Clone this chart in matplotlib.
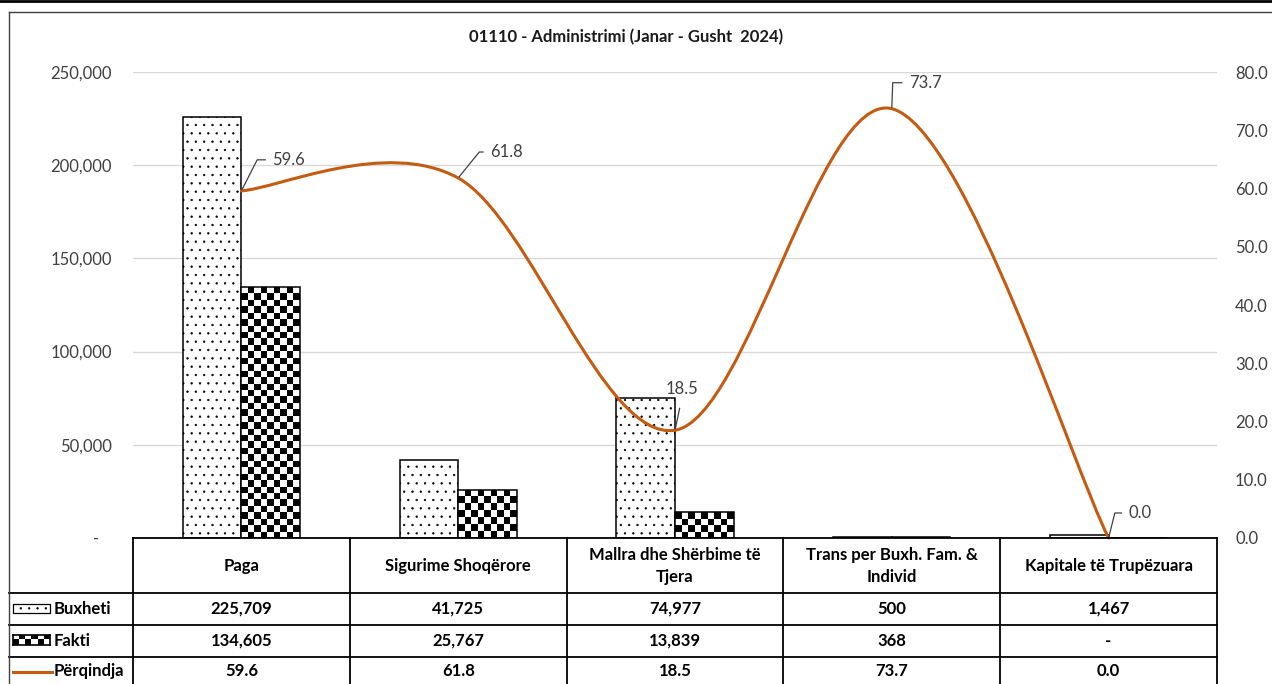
import numpy as np
import matplotlib
matplotlib.use('Agg')
import matplotlib.pyplot as plt
from matplotlib.path import Path
from matplotlib.patches import PathPatch, Rectangle
from matplotlib.lines import Line2D
from matplotlib.colors import ListedColormap
from matplotlib.ticker import FuncFormatter, MultipleLocator

plt.rcParams['font.family'] = ['Lato', 'DejaVu Sans']
plt.rcParams['hatch.linewidth'] = 0.45

title = '01110 - Administrimi (Janar - Gusht  2024)'
categories = ['Paga', 'Sigurime Shoqërore', 'Mallra dhe Shërbime të\nTjera',
              'Trans per Buxh. Fam. &\nIndivid', 'Kapitale të Trupëzuara']
buxheti = [225709, 41725, 74977, 500, 1467]
fakti = [134605, 25767, 13839, 368, 0]
perqindja = [59.6, 61.8, 18.5, 73.7, 0.0]
series = ['Buxheti', 'Fakti', 'Përqindja']

W, H = 1272, 684
orange = '#C55A11'
txt = '#404040'
checker_cmap = ListedColormap(['white', 'black'])

fig = plt.figure(figsize=(W / 100, H / 100), dpi=100)


def fx(px):
    return px / W


def fy(py):
    return 1 - py / H


# plot area in pixels: left 133, right 1217, top 72, bottom 538
ax = fig.add_axes([fx(133), fy(538), fx(1217) - fx(133), fy(72) - fy(538)])
ax.set_xlim(-0.5, 4.5)
ax.set_ylim(0, 250000)
ax.yaxis.set_major_locator(MultipleLocator(50000))
ax.yaxis.set_major_formatter(FuncFormatter(lambda v, p: '-   ' if v == 0 else f'{v:,.0f}'))
ax.set_xticks([])
ax.tick_params(axis='y', length=0, pad=15, labelsize=12, labelcolor=txt)
ax.yaxis.grid(True, color='#d9d9d9', lw=1)
ax.set_axisbelow(True)
for s in ax.spines.values():
    s.set_visible(False)

x = np.arange(len(categories))
w = 0.27
ax.bar(x - w / 2, buxheti, w, facecolor='white', edgecolor='black', lw=1.1,
       hatch='..', zorder=2)
fbars = ax.bar(x + w / 2, fakti, w, facecolor='none', edgecolor='black', lw=1.1,
               zorder=3)


def checker(axis, rect, cell=6.5):
    x0, y0 = rect.get_x(), rect.get_y()
    x1, y1 = x0 + rect.get_width(), y0 + rect.get_height()
    if y1 <= y0:
        return
    (px0, py0), (px1, py1) = axis.transData.transform([(x0, y0), (x1, y1)])
    nx = max(1, int(round((px1 - px0) / cell)))
    ny = max(1, int(round((py1 - py0) / cell)))
    grid = np.indices((ny, nx)).sum(axis=0) % 2
    im = axis.imshow(grid, cmap=checker_cmap, extent=(x0, x1, y0, y1),
                     origin='lower', interpolation='nearest', aspect='auto',
                     zorder=2.5)
    im.set_clip_path(rect)


for r in fbars:
    checker(ax, r)
ax.set_xlim(-0.5, 4.5)
ax.set_ylim(0, 250000)

# right axis with the smoothed percentage line
ax2 = ax.twinx()
ax2.set_ylim(0, 80)
ax2.yaxis.set_major_locator(MultipleLocator(10))
ax2.yaxis.set_major_formatter(FuncFormatter(lambda v, p: f'{v:.1f}'))
ax2.tick_params(axis='y', length=0, pad=13, labelsize=12, labelcolor=txt)
for s in ax2.spines.values():
    s.set_visible(False)

pts = np.column_stack([x, perqindja]).astype(float)
ext = np.vstack([pts[0], pts, pts[-1]])
verts = [pts[0]]
codes = [Path.MOVETO]
for i in range(len(pts) - 1):
    p0, p1, p2, p3 = ext[i], ext[i + 1], ext[i + 2], ext[i + 3]
    verts += [p1 + (p2 - p0) / 6, p2 - (p3 - p1) / 6, p2]
    codes += [Path.CURVE4] * 3
ax2.add_patch(PathPatch(Path(verts, codes), fill=False, edgecolor=orange, lw=2.2,
                        capstyle='round', zorder=4, clip_on=False))

# data labels with leader lines
label_offsets = [(31, 31, 63), (32, 26, 51), (7, 41, None), (17, 26, 88), (20, 25, 76)]
for xi, v, (dx, dy, ang) in zip(x, perqindja, label_offsets):
    if ang is None:
        ax2.annotate(f'{v:.1f}', (xi, v), xytext=(dx, dy), textcoords='offset pixels',
                     ha='center', va='center', fontsize=12, color=txt, zorder=6,
                     arrowprops=dict(arrowstyle='-', color=txt, lw=0.9, relpos=(0.5, 0),
                                     shrinkA=6, shrinkB=1))
    else:
        ax2.annotate(f'{v:.1f}', (xi, v), xytext=(dx, dy), textcoords='offset pixels',
                     ha='left', va='center', fontsize=12, color=txt, zorder=6,
                     arrowprops=dict(arrowstyle='-', color=txt, lw=0.9, relpos=(0, 0.5),
                                     shrinkA=3, shrinkB=1,
                                     connectionstyle=f'angle,angleA=0,angleB={ang},rad=0'))

# title
fig.text(fx(626), fy(37), title, ha='center', va='center', fontsize=12,
         fontweight='bold', color='#1a1a1a')

# data table below the plot
edges = ax.transData.transform([(e, 0) for e in np.arange(-0.5, len(categories))])[:, 0] / W
tl = dict(color='black', lw=1.3, transform=fig.transFigure)
fig.add_artist(Line2D([edges[0], edges[-1]], [fy(538), fy(538)], **tl))
for yy in (593, 625, 657):
    fig.add_artist(Line2D([fx(9), edges[-1]], [fy(yy), fy(yy)], **tl))
for e in edges:
    fig.add_artist(Line2D([e, e], [fy(538), 0], **tl))

centers = (edges[:-1] + edges[1:]) / 2
cell_font = dict(ha='center', va='center', fontsize=12, fontweight='bold', color='black')
for c, name in zip(centers, categories):
    fig.text(c, fy(566), name, linespacing=1.5, **cell_font)
rows = [[f'{v:,}' if v else '-' for v in buxheti],
        [f'{v:,}' if v else '-' for v in fakti],
        [f'{v:.1f}' for v in perqindja]]
for yy, row in zip((609, 641, 671), rows):
    for c, s in zip(centers, row):
        fig.text(c, fy(yy), s, **cell_font)

# legend keys inside the table
for yy, name in zip((609, 641, 671), series):
    fig.text(fx(54), fy(yy), name, ha='left', va='center', fontsize=12,
             fontweight='bold', color='black')
fig.add_artist(Rectangle((fx(13), fy(613)), fx(50) - fx(13), fy(604) - fy(613),
                         facecolor='white', edgecolor='black', lw=0.9, hatch='..',
                         transform=fig.transFigure))
kax = fig.add_axes([fx(13), fy(645), fx(50) - fx(13), fy(635) - fy(645)])
kax.imshow(np.indices((2, 6)).sum(axis=0) % 2, cmap=checker_cmap,
           interpolation='nearest', aspect='auto')
kax.set_xticks([])
kax.set_yticks([])
for s in kax.spines.values():
    s.set_color('black')
    s.set_linewidth(1.2)
fig.add_artist(Line2D([fx(13), fx(52)], [fy(672), fy(672)], color=orange, lw=2.2,
                      transform=fig.transFigure))

# chart frame and the rule above it
fig.add_artist(Line2D([fx(9), fx(9)], [fy(12), 0], color='#404040', lw=1,
                      transform=fig.transFigure))
fig.add_artist(Line2D([fx(9), 1], [fy(12), fy(12)], color='#404040', lw=1,
                      transform=fig.transFigure))
fig.add_artist(Line2D([0, 1], [fy(1.3), fy(1.3)], color='black', lw=2,
                      transform=fig.transFigure))

fig.savefig('out.png', dpi=100, facecolor='white')
